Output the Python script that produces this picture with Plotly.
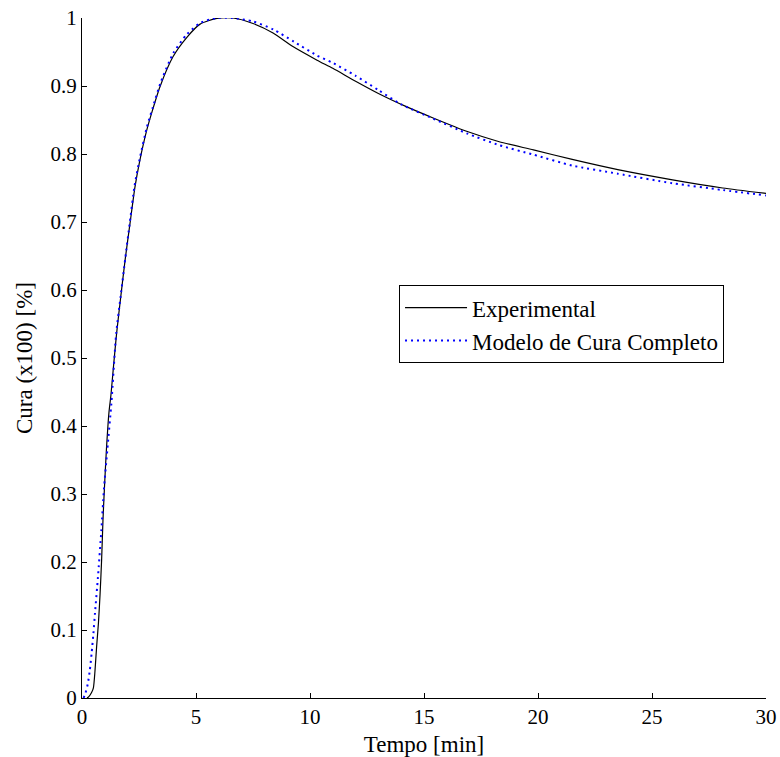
import plotly.graph_objects as go

# Experimental curve
t_exp = [0.22, 0.30, 0.42, 0.50, 0.57, 0.64, 0.72, 0.79, 0.86, 0.92, 0.99, 1.07, 1.18, 1.27,
         1.38, 1.52, 1.70, 1.89, 2.11, 2.32, 2.54, 2.84, 3.07, 3.42, 3.99, 4.61, 5.18, 5.92,
         6.62, 7.50, 8.38, 9.25, 10.31, 11.0, 12.0, 13.0, 14.2, 15.4, 16.9, 18.3, 19.8,
         21.5, 23.5, 25.9, 28.1, 30.0]
cura_exp = [0.0, 0.002, 0.008, 0.015, 0.04, 0.075, 0.11, 0.151, 0.203, 0.262, 0.313, 0.365,
            0.419, 0.446, 0.487, 0.537, 0.590, 0.644, 0.699, 0.751, 0.791, 0.835, 0.862,
            0.899, 0.943, 0.972, 0.991, 0.9995, 1.0, 0.992, 0.978, 0.958, 0.938, 0.926,
            0.907, 0.889, 0.870, 0.853, 0.833, 0.818, 0.806, 0.792, 0.777, 0.762, 0.750, 0.742]

# Model curve
t_mod = [0.07, 0.15, 0.25, 0.34, 0.42, 0.50, 0.57, 0.70, 0.85, 0.96, 1.11, 1.29, 1.50,
         1.70, 1.90, 2.10, 2.30, 2.55, 2.85, 3.10, 3.45, 4.00, 4.60, 5.20, 5.90, 6.60,
         7.50, 8.40, 9.30, 10.3, 11.0, 12.0, 13.0, 14.0, 15.4, 16.9, 18.3, 19.8, 21.5,
         23.5, 25.9, 28.1, 30.0]
cura_mod = [0.0, 0.007, 0.02, 0.04, 0.065, 0.095, 0.125, 0.178, 0.247, 0.306, 0.365, 0.434,
            0.536, 0.592, 0.647, 0.700, 0.752, 0.796, 0.840, 0.868, 0.905, 0.948, 0.976,
            0.993, 1.0, 1.0, 0.995, 0.983, 0.965, 0.945, 0.934, 0.915, 0.894, 0.873, 0.852,
            0.830, 0.813, 0.799, 0.783, 0.771, 0.757, 0.747, 0.739]

x_ticks = [0, 5, 10, 15, 20, 25, 30]
y_ticks = [0, 0.1, 0.2, 0.3, 0.4, 0.5, 0.6, 0.7, 0.8, 0.9, 1]
y_ticktext = ["0", "0.1", "0.2", "0.3", "0.4", "0.5", "0.6", "0.7", "0.8", "0.9", "1"]

FONT = "Liberation Serif, Times New Roman, serif"

fig = go.Figure()
fig.add_trace(go.Scatter(x=t_exp, y=cura_exp, mode="lines", name="Experimental",
                         line=dict(color="black", width=1.2, shape="spline", smoothing=0.6)))
fig.add_trace(go.Scatter(x=t_mod, y=cura_mod, mode="lines", name="Modelo de Cura Completo",
                         line=dict(color="#0000ff", width=2, dash="2px,4px", shape="spline", smoothing=0.6)))

fig.update_layout(
    width=780, height=757,
    margin=dict(l=82, r=14, t=18, b=59),
    paper_bgcolor="white", plot_bgcolor="white",
    font=dict(family=FONT, size=21, color="black"),
    showlegend=True,
    legend=dict(x=0.4635, y=0.607, xanchor="left", yanchor="top",
                bordercolor="black", borderwidth=1, bgcolor="white",
                font=dict(family=FONT, size=23, color="black"),
                itemwidth=62, tracegroupgap=0),
    xaxis=dict(range=[0, 30], tickvals=x_ticks, ticks="inside", ticklen=5,
               tickcolor="black", showline=True, linecolor="black", linewidth=1,
               showgrid=False, zeroline=False, mirror=False, automargin=False,
               title=dict(text="Tempo [min]", standoff=7, font=dict(size=23)),
               tickfont=dict(family=FONT, size=21)),
    yaxis=dict(range=[0, 1], tickvals=y_ticks, ticktext=y_ticktext, ticks="inside",
               ticklen=5, tickcolor="black", showline=True, linecolor="black",
               linewidth=1, showgrid=False, zeroline=False, mirror=False, automargin=False,
               title=dict(text="Cura (x100) [%]", standoff=11, font=dict(size=23)),
               tickfont=dict(family=FONT, size=21)),
)

fig.write_html("out.html")
